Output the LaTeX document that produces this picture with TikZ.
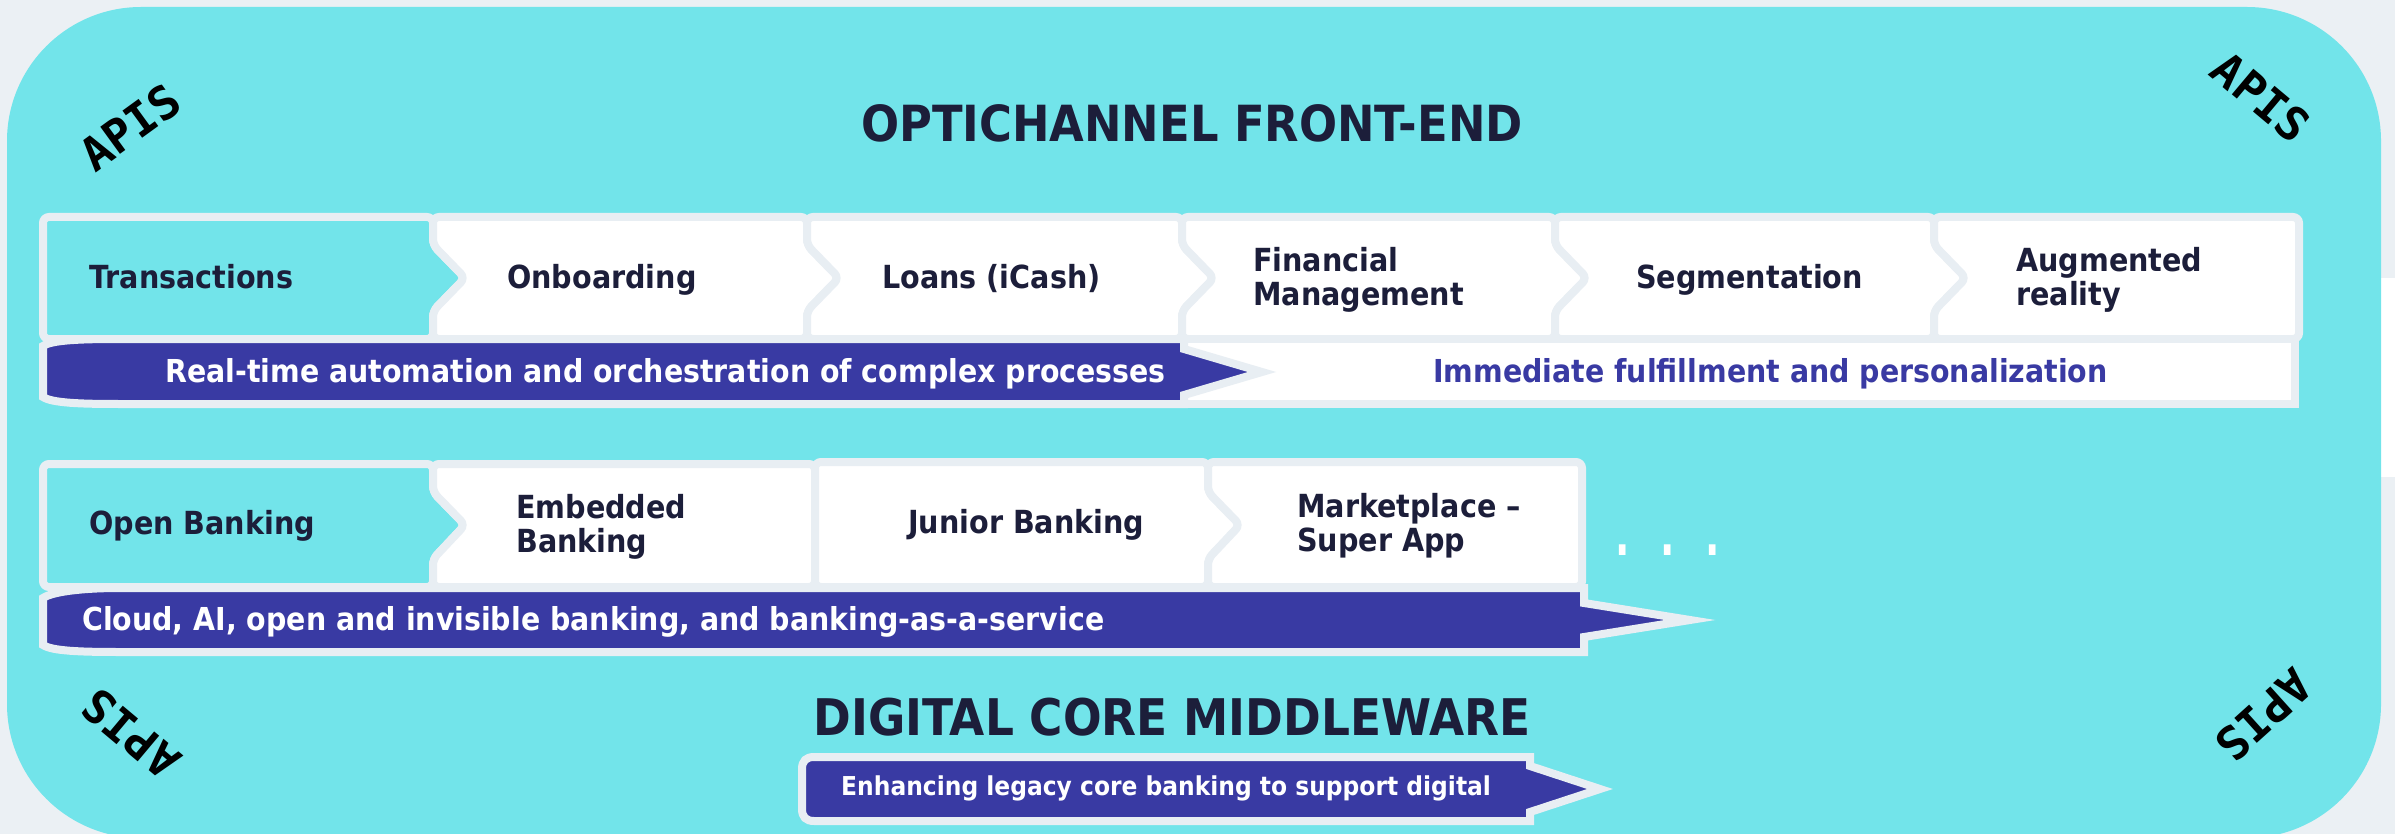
\documentclass[tikz,border=0pt]{standalone}
\usepackage{fontspec}
\setmainfont{DejaVu Sans}[FakeStretch=0.9]
\newfontfamily\apisfont{DejaVu Sans Mono}
\definecolor{bg}{HTML}{EBF0F4}
\definecolor{cy}{HTML}{72E4EA}
\definecolor{navy}{HTML}{1C1E3A}
\definecolor{barblue}{HTML}{393AA3}
\definecolor{rim}{HTML}{E8EEF3}
\begin{document}
\begin{tikzpicture}[x=1pt,y=-1pt,
  segbox/.style={draw=rim, line width=8pt, rounded corners=6pt},
  barbox/.style={draw=rim, line width=8pt},
  lbl/.style={anchor=base west, inner sep=0pt, text=navy, font=\fontsize{31.8}{34}\selectfont\bfseries},
  barlbl/.style={anchor=base west, inner sep=0pt, text=white, font=\fontsize{31.6}{34}\selectfont\bfseries},
  title/.style={anchor=base, inner sep=0pt, text=navy, font=\fontsize{49.8}{52}\selectfont\bfseries},
  apis/.style={inner sep=0pt, text=black, font=\apisfont\bfseries\fontsize{46}{46}\selectfont}]
\useasboundingbox (0,0) rectangle (2395,834);
\fill[bg] (0,0) rectangle (2395,834);
\fill[white] (2381,278) rectangle (2395,477);
\fill[cy, rounded corners=134pt] (7,7) rectangle (2381,838);

% titles
\node[title] (ttop) at (1192,142) {OPTICHANNEL FRONT-END};
\node[title, font=\fontsize{50.5}{52}\selectfont\bfseries] (tbot) at (1172,735) {DIGITAL CORE MIDDLEWARE};

% APIS
\node[apis, rotate=36] (apisTL) at (130,127) {APIS};
\node[apis, rotate=-40] (apisTR) at (2261,97) {APIS};
\node[apis, rotate=140] (apisBL) at (131,734) {APIS};
\node[apis, rotate=-138] (apisBR) at (2264,715) {APIS};

% row 1 chevrons
\draw[segbox, fill=cy] (43,217) -- (433,217) -- (433,245) -- (465,278) -- (433,311) -- (433,339) -- (43,339) -- cycle;
\draw[segbox, fill=white] (433,217) -- (807,217) -- (807,245) -- (839,278) -- (807,311) -- (807,339) -- (433,339) -- (433,311) -- (465,278) -- (433,245) -- cycle;
\draw[segbox, fill=white] (807,217) -- (1182,217) -- (1182,245) -- (1214,278) -- (1182,311) -- (1182,339) -- (807,339) -- (807,311) -- (839,278) -- (807,245) -- cycle;
\draw[segbox, fill=white] (1182,217) -- (1555,217) -- (1555,245) -- (1587,278) -- (1555,311) -- (1555,339) -- (1182,339) -- (1182,311) -- (1214,278) -- (1182,245) -- cycle;
\draw[segbox, fill=white] (1555,217) -- (1934,217) -- (1934,245) -- (1966,278) -- (1934,311) -- (1934,339) -- (1555,339) -- (1555,311) -- (1587,278) -- (1555,245) -- cycle;
\draw[segbox, fill=white] (1934,217) -- (2299,217) -- (2299,339) -- (1934,339) -- (1934,311) -- (1966,278) -- (1934,245) -- cycle;

% row 1 bars
\draw[barbox, fill=white] (1184,339) rectangle (2295,404);
\draw[barbox, fill=barblue] (43,346) .. controls (52,340) and (80,339) .. (120,339) -- (1184,339) -- (1184,349) -- (1262,372) -- (1184,395) -- (1184,404) -- (120,404) .. controls (80,404) and (52,403) .. (43,397) -- cycle;

\node[lbl] (trans) at (89,289) {Transactions};
\node[lbl] (onb) at (507,289) {Onboarding};
\node[lbl] (loans) at (882,289) {Loans (iCash)};
\node[lbl] (finm) at (1253,272) {\parbox[t]{300pt}{\raggedright Financial\\Management}};
\node[lbl] (segm) at (1636,289) {Segmentation};
\node[lbl] (augr) at (2016,272) {\parbox[t]{300pt}{\raggedright Augmented\\reality}};
\node[barlbl] (rt) at (165,382) {Real-time automation and orchestration of complex processes};
\node[barlbl, text=barblue] (imm) at (1433,382) {Immediate fulfillment and personalization};

% row 2 chevrons
\draw[segbox, fill=cy] (43,464) -- (433,464) -- (433,492) -- (465,525) -- (433,559) -- (433,587) -- (43,587) -- cycle;
\draw[segbox, fill=white] (433,464) -- (815,464) -- (815,587) -- (433,587) -- (433,559) -- (465,525) -- (433,492) -- cycle;
\draw[segbox, fill=white] (815,462) -- (1208,462) -- (1208,492) -- (1240,525) -- (1208,559) -- (1208,587) -- (815,587) -- cycle;
\draw[segbox, fill=white] (1208,462) -- (1582,462) -- (1582,587) -- (1208,587) -- (1208,559) -- (1240,525) -- (1208,492) -- cycle;

% row 2 bar
\draw[barbox, fill=barblue] (43,598) .. controls (52,592) and (80,588) .. (120,588) -- (1584,588) -- (1584,603) -- (1690,620) -- (1584,637) -- (1584,652) -- (120,652) .. controls (80,652) and (52,651) .. (43,645) -- cycle;

\node[lbl] (openb) at (89,534) {Open Banking};
\node[lbl] (embb) at (516,518) {\parbox[t]{300pt}{\raggedright Embedded\\Banking}};
\node[lbl] (junb) at (908,533) {Junior Banking};
\node[lbl] (mkt) at (1297,517) {\parbox[t]{300pt}{\raggedright Marketplace --\\Super App}};
\node[barlbl] (cloud) at (82,630) {Cloud, AI, open and invisible banking, and banking-as-a-service};
\node[anchor=base west, inner sep=0pt, text=white, font=\fontsize{42}{42}\selectfont\bfseries] (dots) at (1615,555) {\scalebox{1}[1.35]{.\hspace{31pt}.\hspace{31pt}.}};

% middleware bar
\draw[barbox, fill=barblue] (814,757) -- (1530,757) -- (1530,766) -- (1600,789) -- (1530,812) -- (1530,821) -- (814,821) .. controls (806,821) and (802,817) .. (802,809) -- (802,769) .. controls (802,761) and (806,757) .. (814,757) -- cycle;
\node[barlbl, font=\fontsize{26}{28}\selectfont\bfseries] (enh) at (841,795) {Enhancing legacy core banking to support digital};
\end{tikzpicture}
\end{document}
